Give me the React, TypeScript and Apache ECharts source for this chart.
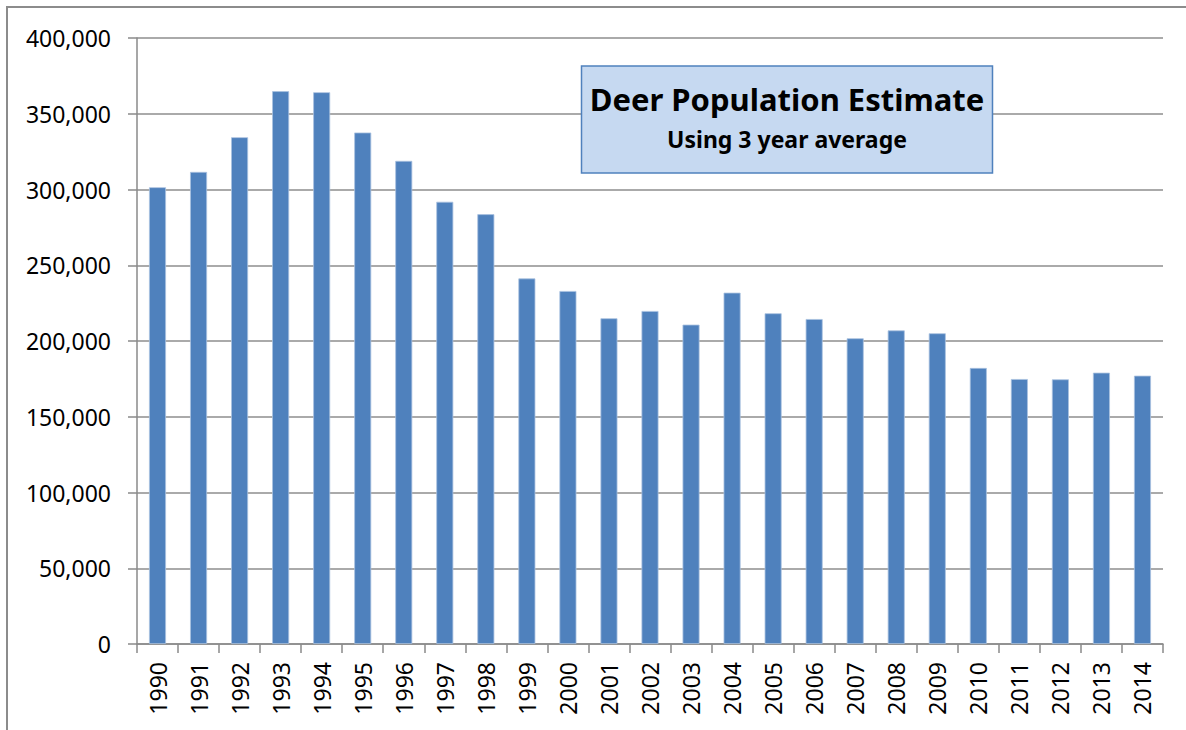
import React, { useEffect, useRef } from "react";
import * as echarts from "echarts";

const years = [
  "1990", "1991", "1992", "1993", "1994", "1995", "1996", "1997", "1998", "1999",
  "2000", "2001", "2002", "2003", "2004", "2005", "2006", "2007", "2008", "2009",
  "2010", "2011", "2012", "2013", "2014",
];
const population = [
  301500, 311600, 334500, 364900, 364200, 337600, 318900, 291900, 283700, 241300,
  233000, 215000, 219800, 210800, 231900, 218300, 214500, 201800, 207000, 205100,
  182200, 174900, 174700, 179100, 177100,
];
const titleText = "Deer Population Estimate";
const subtitleText = "Using 3 year average";
const yMin = 0;
const yMax = 400000;
const yStep = 50000;

const FONT = "'Noto Sans', 'Open Sans', sans-serif";

export default function App() {
  const ref = useRef<HTMLDivElement>(null);
  useEffect(() => {
    if (!ref.current) return;
    const chart = echarts.init(ref.current, null, { renderer: "svg" });
    chart.setOption({
      animation: false,
      backgroundColor: "#ffffff",
      grid: { left: 137, top: 38, right: 23, bottom: 86 },
      xAxis: {
        type: "category",
        data: years,
        axisLine: { show: true, lineStyle: { color: "#8a8a8a", width: 1.5 } },
        axisTick: { show: true, length: 9, lineStyle: { color: "#8a8a8a", width: 1.5 } },
        axisLabel: {
          rotate: 90,
          margin: 18,
          color: "#000",
          fontFamily: FONT,
          fontSize: 23,
          interval: 0,
        },
      },
      yAxis: {
        type: "value",
        min: yMin,
        max: yMax,
        interval: yStep,
        axisLine: { show: true, lineStyle: { color: "#8a8a8a", width: 1.5 } },
        axisTick: { show: true, length: 9, lineStyle: { color: "#8a8a8a", width: 1.5 } },
        axisLabel: {
          margin: 26,
          color: "#000",
          fontFamily: FONT,
          fontSize: 23,
          formatter: (v: number) => v.toLocaleString("en-US"),
        },
        splitLine: { show: true, lineStyle: { color: "#8e8e8e", width: 1.5 } },
      },
      series: [
        {
          type: "bar",
          data: population,
          barWidth: 17,
          itemStyle: { color: "#4f81bd", borderColor: "#a9c1df", borderWidth: 0.8 },
        },
      ],
      graphic: [
        {
          type: "rect",
          silent: true,
          shape: { x: 7, y: 7, width: 1300, height: 900 },
          style: { fill: "none", stroke: "#8c8c8c", lineWidth: 2 },
          z: 100,
        },
        {
          type: "rect",
          shape: { x: 581.5, y: 66, width: 411, height: 107 },
          style: { fill: "#c6d9f1", stroke: "#4f81bd", lineWidth: 1.5 },
          z: 100,
        },
        {
          type: "text",
          x: 787,
          y: 99,
          style: {
            text: titleText,
            font: `bold 31px ${FONT}`,
            fill: "#000",
            align: "center",
            verticalAlign: "middle",
          },
          z: 101,
        },
        {
          type: "text",
          x: 787,
          y: 139,
          style: {
            text: subtitleText,
            font: `bold 23px ${FONT}`,
            fill: "#000",
            align: "center",
            verticalAlign: "middle",
          },
          z: 101,
        },
      ],
    });
    return () => chart.dispose();
  }, []);
  return (
    <div
      ref={ref}
      style={{ position: "fixed", left: 0, top: 0, width: 1186, height: 730 }}
    />
  );
}
